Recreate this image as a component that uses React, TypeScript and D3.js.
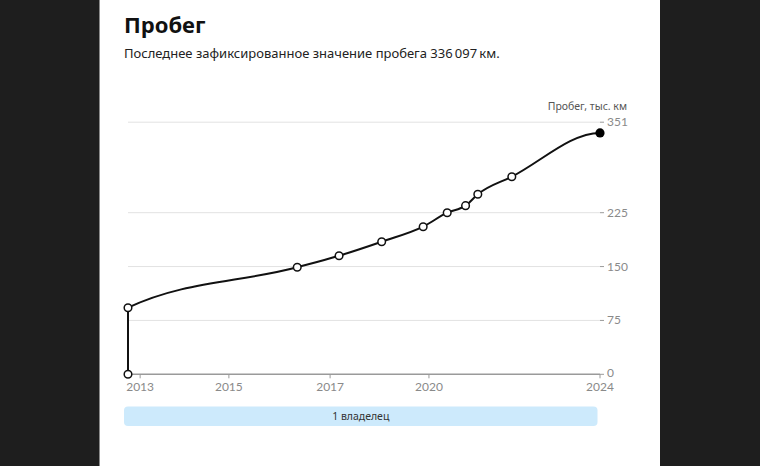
import React from "react";
import * as d3 from "d3";

const recordDates = [
  "2012-10-19", "2012-10-19", "2016-11-20", "2017-11-24", "2018-12-05",
  "2019-12-06", "2020-07-05", "2020-12-14", "2021-04-01", "2022-01-26", "2024-03-14",
];
const recordValues = [0, 92.7, 149.0, 165.1, 184.6, 205.5, 225.0, 234.8, 250.6, 275.1, 336.097];
const currentDate = "2024-03-15";
const currentValue = 336.097;

const yTicks = [0, 75, 150, 225, 351];
const xTickDates = ["2013-02-03", "2015-03-28", "2017-09-06", "2020-01-26", "2024-03-14"];
const xTickLabels = ["2013", "2015", "2017", "2020", "2024"];

const owners = ["1 владелец"];
const title = "Пробег";
const subtitle = "Последнее зафиксированное значение пробега 336\u2009097\u2009км.";
const yAxisTitle = "Пробег, тыс. км";

const W = 760;
const H = 466;
const CYR = "'Noto Sans', 'Open Sans', sans-serif";
const NUM = "Lato, 'Noto Sans', sans-serif";

export default function App() {
  const parse = d3.timeParse("%Y-%m-%d");
  const records = recordDates.map((d, i) => ({ date: parse(d) as Date, value: recordValues[i] }));
  const last = records[records.length - 1];
  const current = { date: parse(currentDate) as Date, value: currentValue };
  const linePoints = [...records, current];

  const x = d3
    .scaleTime()
    .domain([records[0].date, last.date])
    .range([128, 600]);
  const y = d3.scaleLinear().domain([0, 351]).range([374.3, 122.2]);

  const line = d3
    .line<{ date: Date; value: number }>()
    .x((d) => x(d.date))
    .y((d) => y(d.value))
    .curve(d3.curveMonotoneX);

  const x0 = x.range()[0];
  const x1 = x.range()[1];

  return (
    <svg
      width={W}
      height={H}
      style={{ position: "absolute", left: 0, top: 0, display: "block" }}
    >
      <rect x={0} y={0} width={W} height={H} fill="#1e1e1e" />
      <rect x={99} y={0} width={1} height={H} fill="#8a8a8a" />
      <rect x={100} y={0} width={560} height={H} fill="#ffffff" />

      <text x={124} y={33} fontFamily={CYR} fontWeight={700} fontSize={22} fill="#111">
        {title}
      </text>
      <text x={124} y={58} fontFamily={CYR} fontSize={13} fill="#222">
        {subtitle}
      </text>

      {yTicks.map((t) => (
        <g key={t}>
          <line
            x1={x0}
            x2={x1}
            y1={y(t)}
            y2={y(t)}
            stroke={t === 0 ? "#9a9a9a" : "#e2e2e2"}
            strokeWidth={t === 0 ? 1.5 : 1}
          />
          <line x1={x1} x2={x1 + 4} y1={y(t)} y2={y(t)} stroke="#9a9a9a" strokeWidth={1} />
          <text
            x={x1 + 7}
            y={y(t) + (t === 0 ? 3 : 4)}
            fontFamily={NUM}
            fontSize={12}
            fill="#8a8a8a"
          >
            {t}
          </text>
        </g>
      ))}
      <text
        x={627}
        y={110}
        textAnchor="end"
        fontFamily={CYR}
        fontSize={10.5}
        fill="#555"
      >
        {yAxisTitle}
      </text>

      {xTickDates.map((d, i) => {
        const px = x(parse(d) as Date);
        return (
          <g key={d}>
            <line x1={px} x2={px} y1={y(0)} y2={y(0) + 4} stroke="#9a9a9a" strokeWidth={1} />
            <text
              x={px}
              y={391}
              textAnchor="middle"
              fontFamily={NUM}
              fontSize={12}
              fill="#8a8a8a"
            >
              {xTickLabels[i]}
            </text>
          </g>
        );
      })}

      <path d={line(linePoints) || ""} fill="none" stroke="#111" strokeWidth={2} />

      {records.slice(0, -1).map((d, i) => (
        <circle
          key={i}
          cx={x(d.date)}
          cy={y(d.value)}
          r={3.8}
          fill="#fff"
          stroke="#111"
          strokeWidth={1.5}
        />
      ))}
      <circle cx={x(last.date)} cy={y(last.value)} r={4.6} fill="#000" />

      {owners.map((o) => (
        <g key={o}>
          <rect x={124} y={406.5} width={473.5} height={19.5} rx={4} fill="#cdeafc" />
          <text
            x={124 + 473.5 / 2}
            y={420}
            textAnchor="middle"
            fontFamily={CYR}
            fontSize={10.5}
            fill="#333"
          >
            {o}
          </text>
        </g>
      ))}
    </svg>
  );
}
